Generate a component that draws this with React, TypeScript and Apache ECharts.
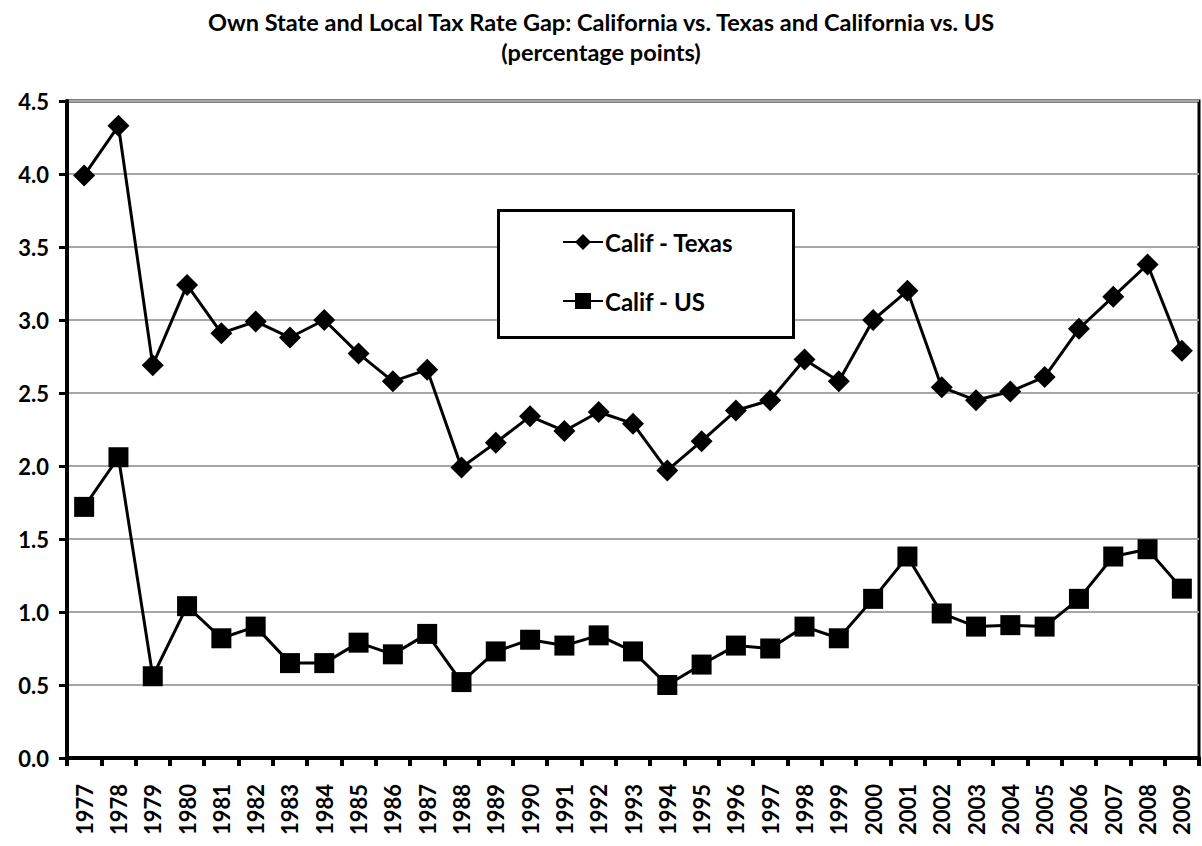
import React, { useEffect, useRef } from "react";
import * as echarts from "echarts";

const years = [
  "1977","1978","1979","1980","1981","1982","1983","1984","1985","1986","1987",
  "1988","1989","1990","1991","1992","1993","1994","1995","1996","1997","1998",
  "1999","2000","2001","2002","2003","2004","2005","2006","2007","2008","2009",
];

const califTexas = [
  3.99, 4.33, 2.69, 3.24, 2.91, 2.99, 2.88, 3.00, 2.77, 2.58, 2.66,
  1.99, 2.16, 2.34, 2.24, 2.37, 2.29, 1.97, 2.17, 2.38, 2.45, 2.73,
  2.58, 3.00, 3.20, 2.54, 2.45, 2.51, 2.61, 2.94, 3.16, 3.38, 2.79,
];

const califUS = [
  1.72, 2.06, 0.56, 1.04, 0.82, 0.90, 0.65, 0.65, 0.79, 0.71, 0.85,
  0.52, 0.73, 0.81, 0.77, 0.84, 0.73, 0.50, 0.64, 0.77, 0.75, 0.90,
  0.82, 1.09, 1.38, 0.99, 0.90, 0.91, 0.90, 1.09, 1.38, 1.43, 1.16,
];

const seriesNames = ["Calif - Texas", "Calif - US"];
const titleText =
  "Own State and Local Tax Rate Gap: California vs. Texas and California vs. US\n(percentage points)";

const FONT = "Lato, 'Open Sans', sans-serif";

export default function App() {
  const ref = useRef<HTMLDivElement>(null);

  useEffect(() => {
    if (!ref.current) return;
    const chart = echarts.init(ref.current, undefined, { renderer: "svg" });
    chart.setOption({
      animation: false,
      backgroundColor: "#ffffff",
      title: {
        text: titleText,
        left: "center",
        top: 2,
        textStyle: {
          fontFamily: FONT,
          fontWeight: "bold",
          fontSize: 23.5,
          lineHeight: 30,
          color: "#000",
        },
      },
      graphic: [
        {
          type: "rect",
          left: 497,
          top: 209,
          z: 3,
          shape: { width: 295, height: 127 },
          style: { fill: "#fff", stroke: "#000", lineWidth: 3 },
        },
      ],
      legend: {
        orient: "vertical",
        left: 557,
        top: 225,
        z: 5,
        itemWidth: 40,
        itemHeight: 20,
        itemGap: 35,
        data: seriesNames,
        textStyle: {
          fontFamily: FONT,
          fontWeight: "bold",
          fontSize: 24,
          color: "#000",
          padding: [0, 0, 0, -3],
        },
      },
      grid: {
        left: 67,
        right: 3,
        top: 101,
        bottom: 88,
        show: true,
        borderColor: "#000",
        borderWidth: 3,
      },
      xAxis: {
        type: "category",
        data: years,
        boundaryGap: true,
        axisLine: { lineStyle: { color: "#000", width: 4 } },
        axisTick: { show: true, length: 8, lineStyle: { color: "#000", width: 4 } },
        axisLabel: {
          rotate: 90,
          interval: 0,
          margin: 26,
          fontFamily: FONT,
          fontWeight: "bold",
          fontSize: 22,
          color: "#000",
        },
      },
      yAxis: {
        type: "value",
        min: 0,
        max: 4.5,
        interval: 0.5,
        axisLine: { show: true, lineStyle: { color: "#000", width: 4 } },
        axisTick: { show: true, length: 8, lineStyle: { color: "#000", width: 3 } },
        axisLabel: {
          margin: 18,
          fontFamily: FONT,
          fontWeight: "bold",
          fontSize: 22,
          color: "#000",
          formatter: (v: number) => v.toFixed(1),
        },
        splitLine: { show: true, lineStyle: { color: "#a6a6a6", width: 2 } },
      },
      series: [
        {
          name: seriesNames[0],
          type: "line",
          data: califTexas,
          symbol: "diamond",
          symbolSize: 22,
          itemStyle: { color: "#000" },
          lineStyle: { color: "#000", width: 3 },
        },
        {
          name: seriesNames[1],
          type: "line",
          data: califUS,
          symbol: "rect",
          symbolSize: 20,
          itemStyle: { color: "#000" },
          lineStyle: { color: "#000", width: 3 },
        },
      ],
    });
    return () => chart.dispose();
  }, []);

  return (
    <div
      ref={ref}
      style={{ position: "absolute", left: 0, top: 0, width: 1202, height: 846 }}
    />
  );
}
